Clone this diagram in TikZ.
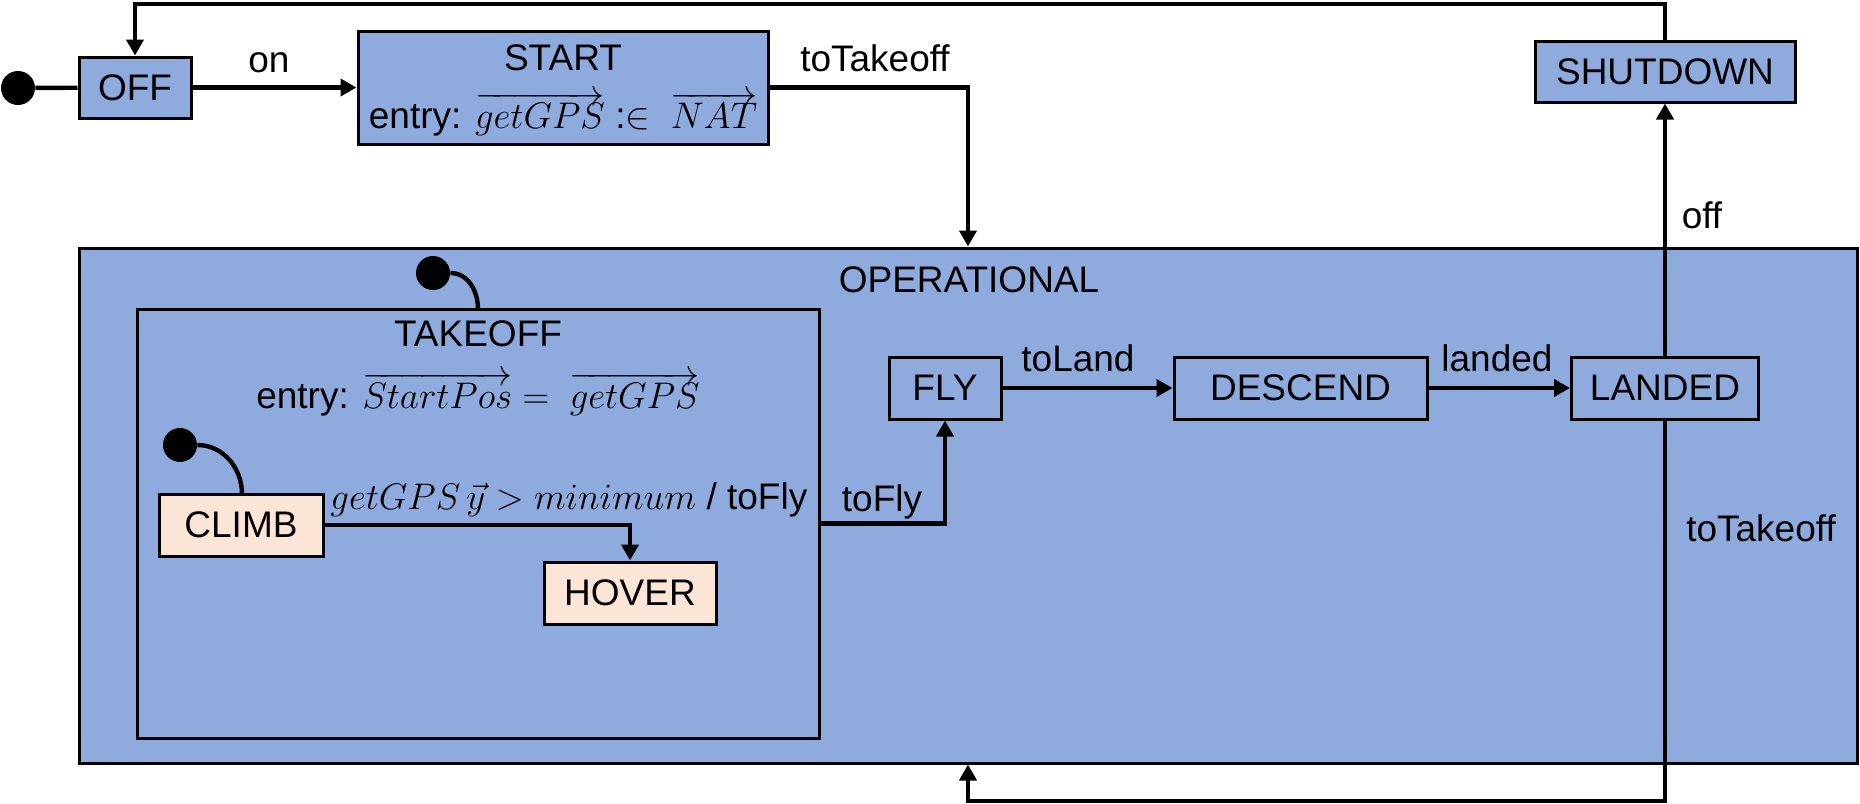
\RequirePackage{fix-cm}
\documentclass[tikz,border=0pt]{standalone}
\usepackage{fontspec}
\setmainfont{Liberation Sans}
\usetikzlibrary{arrows.meta,fit}
\definecolor{stblue}{HTML}{8FAADC}
\definecolor{stpeach}{HTML}{FBE5D6}
\begin{document}
\begin{tikzpicture}[x=0.5pt,y=-0.5pt,
  font=\fontsize{18.5}{22}\selectfont,
  state/.style={draw, line width=1.5pt, fill=stblue, inner sep=0pt},
  sub/.style={state, fill=stpeach},
  pdot/.style={circle, fill=black, inner sep=0pt, minimum size=17pt},
  conn/.style={line width=2.2pt, -{Triangle[length=8pt,width=8.5pt]}},
  plain/.style={line width=2.2pt},
  lbl/.style={inner sep=0pt}]
\useasboundingbox (0,0) rectangle (1860,804);

% composite states
\node[state, fit={(79,248) (1857,763)}] (op) {};
\node[lbl] (oplbl) at (969,280) {OPERATIONAL};
\node[state, fit={(137,309) (819,738)}] (takeoff) {};
\node[lbl] (tklbl) at (478,334) {TAKEOFF};
\node[lbl] (tkentry) at (478,394) {entry: $\overrightarrow{StartPos} = \ \overrightarrow{getGPS}$};

% top states
\node[pdot] (i0) at (18,88) {};
\node[state, minimum width=56pt, minimum height=30.5pt] (off) at (135,87.5) {OFF};
\node[state, minimum width=205pt, minimum height=56.5pt] (start) at (563,87.5) {};
\node[lbl] (stlbl) at (563,58) {START};
\node[lbl] (stentry) at (563,114) {entry: $\overrightarrow{getGPS}$ :$\in$ \ $\overrightarrow{NAT}$};
\node[state, minimum width=130pt, minimum height=30.5pt] (shutdown) at (1665,71.5) {SHUTDOWN};

% takeoff substates
\node[pdot] (tdot) at (433,273) {};
\coordinate (tin) at (478,309);
\node[pdot] (cdot) at (180,445) {};
\node[sub, minimum width=82pt, minimum height=31pt] (climb) at (241,525) {CLIMB};
\coordinate (cin) at (242,494);
\node[sub, minimum width=86pt, minimum height=31pt] (hover) at (630,593) {HOVER};

% operational states
\node[state, minimum width=56pt, minimum height=31pt] (fly) at (945,388) {FLY};
\node[state, minimum width=126.5pt, minimum height=31pt] (descend) at (1300.5,388) {DESCEND};
\node[state, minimum width=93.5pt, minimum height=31pt] (landed) at (1665,388) {LANDED};

% connectors
\draw[plain] (i0) -- (off);
\draw[conn] (off) -- (start);
\node[lbl] (lon) at (269,63) {on};
\draw[conn] (start.east) -| (op.north);
\node[lbl] (ltk1) at (875,58) {toTakeoff};
\coordinate (topy) at (0,4);
\draw[conn] (shutdown.north) -- (shutdown.north |- topy) -| (off.north);
\draw[conn] (landed.north) -- (shutdown.south);
\node[lbl] (loff) at (1702,215) {off};
\coordinate (boty) at (0,801);
\draw[conn] (landed.south) -- (landed.south |- boty) -| (op.south);
\node[lbl] (ltk2) at (1761,528) {toTakeoff};

\draw[plain] (tdot.east) to[out=0,in=90] (tin);
\draw[plain] (cdot.east) to[out=0,in=90] (cin);
\draw[conn] (climb.east) -| (hover.north);
\node[lbl, anchor=west] (lguard) at (330,500) {$getGPS\,\vec{y} > minimum$ / toFly};

\draw[conn] (takeoff.east) -| (fly.south);
\node[lbl] (ltofly) at (882,502) {toFly};
\draw[conn] (fly) -- (descend);
\node[lbl] (lland) at (1078,358) {toLand};
\draw[conn] (descend) -- (landed);
\node[lbl] (llanded) at (1497,358) {landed};
\end{tikzpicture}
\end{document}
